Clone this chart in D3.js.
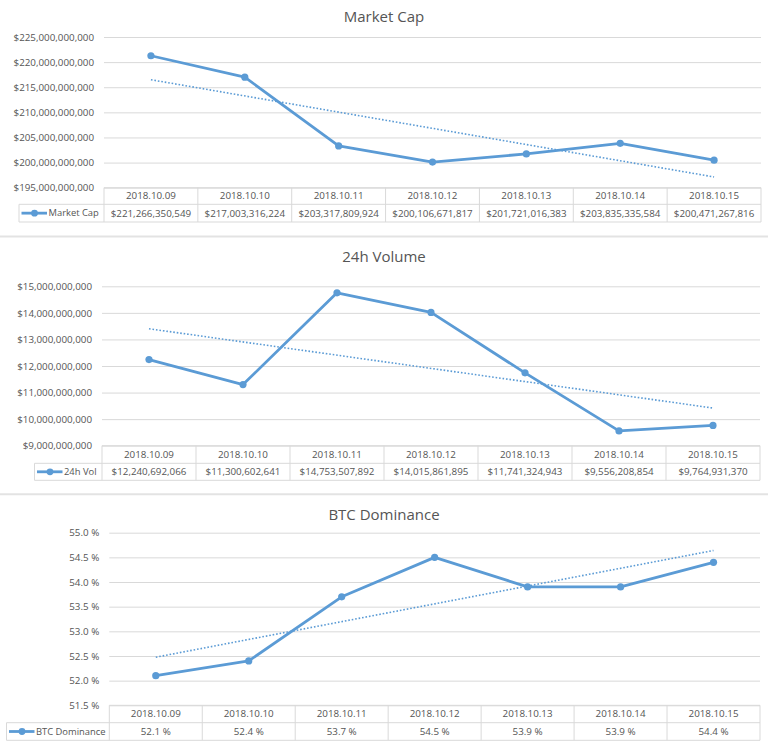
<!DOCTYPE html>
<html>
<head>
<meta charset="utf-8">
<script src="https://cdn.jsdelivr.net/npm/d3@7"></script>
<style>
  body { margin: 0; background: #fff; }
  svg { display: block; font-family: "Open Sans", sans-serif; }
</style>
</head>
<body>
<div id="vis"></div>
<script>
// data
var dates = ["2018.10.09", "2018.10.10", "2018.10.11", "2018.10.12", "2018.10.13", "2018.10.14", "2018.10.15"];
var marketCap = [221266350549, 217003316224, 203317809924, 200106671817, 201721016383, 203835335584, 200471267816];
var volume24h = [12240692066, 11300602641, 14753507892, 14015861895, 11741324943, 9556208854, 9764931370];
var btcDominance = [52.1, 52.4, 53.7, 54.5, 53.9, 53.9, 54.4];

var marketCapTicks = [195e9, 200e9, 205e9, 210e9, 215e9, 220e9, 225e9];
var volumeTicks = [9e9, 10e9, 11e9, 12e9, 13e9, 14e9, 15e9];
var dominanceTicks = [51.5, 52.0, 52.5, 53.0, 53.5, 54.0, 54.5, 55.0];

var width = 768, height = 749;
var blue = "#5b9bd5", grey = "#555", gridCol = "#d9d9d9";

var money = d3.format("$,.0f");
var pct = function(d) { return d.toFixed(1) + " %"; };

var svg = d3.select("#vis").append("svg")
  .attr("width", width)
  .attr("height", height);

// layout of each panel
var panels = [
  {title: "Market Cap", legend: "Market Cap", values: marketCap, ticks: marketCapTicks, fmt: money,
   titleY: 17, top: 37, bottom: 187.7, left: 104, right: 761, row1: 204.3, row2: 222, legLeft: 19},
  {title: "24h Volume", legend: "24h Vol", values: volume24h, ticks: volumeTicks, fmt: money,
   titleY: 256.5, top: 286.3, bottom: 445.7, left: 102, right: 760, row1: 463.3, row2: 480.3, legLeft: 34.5},
  {title: "BTC Dominance", legend: "BTC Dominance", values: btcDominance, ticks: dominanceTicks, fmt: pct,
   titleY: 514.5, top: 532.7, bottom: 705.3, left: 109.3, right: 760, row1: 722.7, row2: 740.3, legLeft: 6.5}
];

function drawPanel(p) {
  var g = svg.append("g");

  var x = d3.scaleBand().domain(dates).range([p.left, p.right]);
  var y = d3.scaleLinear().domain(d3.extent(p.ticks)).range([p.bottom, p.top]);
  var cx = function(d) { return x(d) + x.bandwidth() / 2; };

  g.append("text")
    .attr("x", width / 2)
    .attr("y", p.titleY)
    .attr("dy", "0.35em")
    .attr("text-anchor", "middle")
    .attr("fill", grey)
    .style("font-size", "15px")
    .text(p.title);

  // gridlines
  var grid = g.append("g")
    .attr("transform", "translate(" + p.left + ",0)")
    .call(d3.axisLeft(y).tickValues(p.ticks).tickSize(-(p.right - p.left)).tickFormat(""));
  grid.select(".domain").remove();
  grid.selectAll("line").attr("stroke", gridCol);

  // tick labels
  var axis = g.append("g")
    .attr("transform", "translate(" + (p.left - 10) + ",0)")
    .call(d3.axisLeft(y).tickValues(p.ticks).tickSize(0).tickPadding(0).tickFormat(p.fmt));
  axis.select(".domain").remove();
  axis.selectAll("text").attr("fill", grey).style("font-size", "9.8px").style("font-family", "Open Sans, sans-serif");

  // trendline (least squares)
  var n = p.values.length;
  var idx = d3.range(n);
  var mx = d3.mean(idx), my = d3.mean(p.values);
  var slope = d3.sum(idx, function(i) { return (i - mx) * (p.values[i] - my); }) /
              d3.sum(idx, function(i) { return (i - mx) * (i - mx); });
  var fit = function(i) { return my + slope * (i - mx); };
  g.append("line")
    .attr("x1", cx(dates[0])).attr("y1", y(fit(0)))
    .attr("x2", cx(dates[n - 1])).attr("y2", y(fit(n - 1)))
    .attr("stroke", blue)
    .attr("stroke-width", 1.6)
    .attr("stroke-dasharray", "1.6,1.9");

  // series line
  var line = d3.line()
    .x(function(d, i) { return cx(dates[i]); })
    .y(function(d) { return y(d); });
  g.append("path")
    .datum(p.values)
    .attr("d", line)
    .attr("fill", "none")
    .attr("stroke", blue)
    .attr("stroke-width", 2.8)
    .attr("stroke-linejoin", "round");

  g.selectAll("circle.pt")
    .data(p.values)
    .enter().append("circle")
    .attr("class", "pt")
    .attr("cx", function(d, i) { return cx(dates[i]); })
    .attr("cy", function(d) { return y(d); })
    .attr("r", 3.6)
    .attr("fill", blue);

  // data table
  var t = g.append("g").attr("stroke", gridCol).attr("stroke-width", 1).attr("fill", "none");
  t.append("line").attr("x1", p.left).attr("x2", p.right).attr("y1", p.bottom).attr("y2", p.bottom);
  t.append("line").attr("x1", p.legLeft).attr("x2", p.right).attr("y1", p.row1).attr("y2", p.row1);
  t.append("line").attr("x1", p.legLeft).attr("x2", p.right).attr("y1", p.row2).attr("y2", p.row2);
  t.append("line").attr("x1", p.legLeft).attr("x2", p.legLeft).attr("y1", p.row1).attr("y2", p.row2);
  var edges = dates.map(function(d) { return x(d); }).concat([p.right]);
  t.selectAll("line.v")
    .data(edges)
    .enter().append("line")
    .attr("class", "v")
    .attr("x1", function(d) { return d; })
    .attr("x2", function(d) { return d; })
    .attr("y1", p.bottom)
    .attr("y2", p.row2);

  g.selectAll("text.date")
    .data(dates)
    .enter().append("text")
    .attr("class", "date")
    .attr("x", cx)
    .attr("y", (p.bottom + p.row1) / 2)
    .attr("dy", "0.35em")
    .attr("text-anchor", "middle")
    .attr("fill", grey)
    .style("font-size", "9.8px")
    .text(function(d) { return d; });

  g.selectAll("text.val")
    .data(p.values)
    .enter().append("text")
    .attr("class", "val")
    .attr("x", function(d, i) { return cx(dates[i]); })
    .attr("y", (p.row1 + p.row2) / 2)
    .attr("dy", "0.35em")
    .attr("text-anchor", "middle")
    .attr("fill", grey)
    .style("font-size", "9.8px")
    .text(p.fmt);

  // legend key inside the table
  var ly = (p.row1 + p.row2) / 2;
  g.append("line")
    .attr("x1", p.legLeft + 2.5).attr("x2", p.legLeft + 28)
    .attr("y1", ly).attr("y2", ly)
    .attr("stroke", blue).attr("stroke-width", 2.8);
  g.append("circle")
    .attr("cx", p.legLeft + 15.5).attr("cy", ly).attr("r", 3.4).attr("fill", blue);
  g.append("text")
    .attr("x", p.legLeft + 29.5)
    .attr("y", ly)
    .attr("dy", "0.35em")
    .attr("fill", grey)
    .style("font-size", "9.4px")
    .text(p.legend);
}

panels.forEach(drawPanel);

// separators between the charts
svg.selectAll("line.sep")
  .data([236.5, 494.3])
  .enter().append("line")
  .attr("class", "sep")
  .attr("x1", 0).attr("x2", width)
  .attr("y1", function(d) { return d; })
  .attr("y2", function(d) { return d; })
  .attr("stroke", "#e3e3e3")
  .attr("stroke-width", 2);
</script>
</body>
</html>
